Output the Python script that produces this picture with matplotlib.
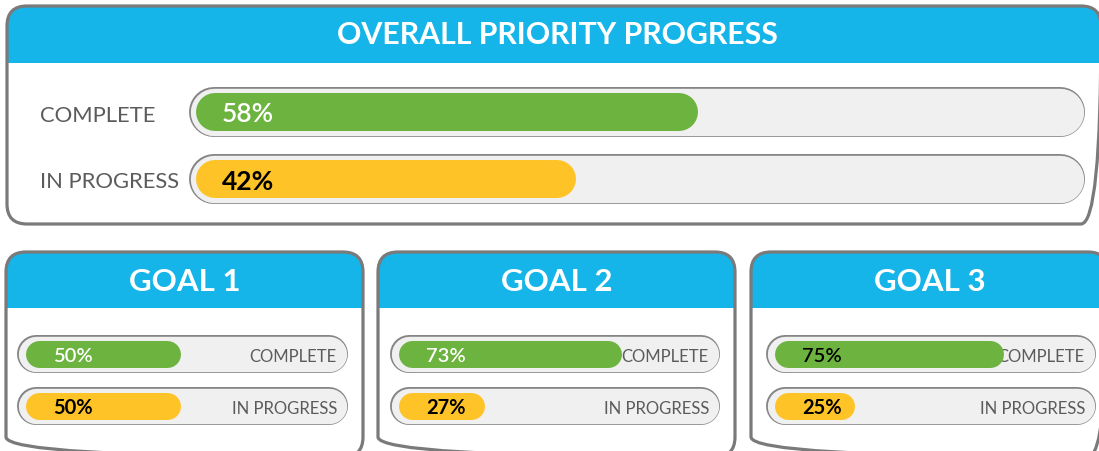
import matplotlib
matplotlib.use("Agg")
import matplotlib.pyplot as plt
from matplotlib.patches import FancyBboxPatch, Rectangle

# ---------------- data ----------------
title = "OVERALL PRIORITY PROGRESS"
overall_categories = ["COMPLETE", "IN PROGRESS"]
overall_values = [58, 42]
goal_names = ["GOAL 1", "GOAL 2", "GOAL 3"]
goal_categories = ["COMPLETE", "IN PROGRESS"]
goal_complete = [50, 73, 75]
goal_in_progress = [50, 27, 25]

# ---------------- style ----------------
W, H, DPI = 1099, 451, 100
BLUE = "#15b5e9"
GREEN = "#6db33f"
YELLOW = "#fec326"
TRACK = "#f0f0f0"
TRACK_EDGE = "#858585"
BORDER = "#7a7a7a"
LABEL = "#5b5b5b"
FONT = ["Lato", "DejaVu Sans"]
plt.rcParams["font.family"] = FONT

fig = plt.figure(figsize=(W / DPI, H / DPI), dpi=DPI)
base = fig.add_axes([0, 0, 1, 1])
base.set_xlim(0, W)
base.set_ylim(H, 0)
base.axis("off")

PT = 72.0 / DPI  # points per pixel


def panel(x0, y0, x1, y1, hdr_bottom, header, hx, hy, hsize, r=20):
    bg = FancyBboxPatch((x0, y0), x1 - x0, y1 - y0,
                        boxstyle=f"round,pad=0,rounding_size={r}",
                        fc="white", ec="none", zorder=1)
    base.add_patch(bg)
    hdr = Rectangle((x0, y0), x1 - x0, hdr_bottom - y0, fc=BLUE, ec="none", zorder=2)
    base.add_patch(hdr)
    hdr.set_clip_path(bg)
    edge = FancyBboxPatch((x0, y0), x1 - x0, y1 - y0,
                          boxstyle=f"round,pad=0,rounding_size={r}",
                          fc="none", ec=BORDER, lw=2.3, zorder=6)
    base.add_patch(edge)
    base.text(hx, hy, header, color="white", fontsize=hsize, fontweight="bold",
              ha="center", va="center", zorder=7)


def track(x0, x1, yc, h):
    r = h / 2.0
    base.plot([x0 + r, x1 - r], [yc, yc], color=TRACK_EDGE, lw=h * PT,
              solid_capstyle="round", zorder=3)
    base.plot([x0 + r, x1 - r], [yc, yc], color=TRACK, lw=(h - 2.6) * PT,
              solid_capstyle="round", zorder=3.1)


def bar(tx0, tx1, yc, th, value, color, left_px, base_px, scale, bh,
        label, lcolor, lweight, lsize, lx, ly):
    """Bar drawn in its own axes whose x axis is in percent."""
    ax = fig.add_axes([tx0 / W, 1 - (yc + th / 2) / H, (tx1 - tx0) / W, th / H])
    ax.axis("off")
    ax.patch.set_visible(False)
    r = bh / 2.0
    zero_px = left_px + base_px - r          # pixel of 0 %
    ax.set_xlim((tx0 - zero_px) / scale, (tx1 - zero_px) / scale)
    ax.set_ylim(-th / 2, th / 2)
    start = (left_px + r - zero_px) / scale
    ax.plot([start, value], [0, 0], color=color, lw=bh * PT,
            solid_capstyle="round", zorder=2)
    ax.text(lx, ly, label, color=lcolor, fontsize=lsize, fontweight=lweight,
            ha="left", va="center", zorder=5, transform=base.transData)
    return ax


# ---------------- overall panel ----------------
panel(7, 6, 1101, 224, 63, title, 557, 35, 21.8)
main_tracks_y = [112, 179]
main_label_dy = [4.5, 2.5]
main_colors = [GREEN, YELLOW]
main_txt_colors = ["white", "black"]
main_txt_weights = ["semibold", "bold"]
for i, (cat, val) in enumerate(zip(overall_categories, overall_values)):
    yc = main_tracks_y[i]
    track(189, 1085, yc, 50)
    bar(189, 1085, yc, 50, val, main_colors[i], 196, 61, 7.6, 38,
        f"{val}%", main_txt_colors[i], main_txt_weights[i], 19, 222, yc + 2.5)
    base.text(40, yc + main_label_dy[i], cat, color=LABEL, fontsize=15.8,
              ha="left", va="center", zorder=7)

# ---------------- goal panels ----------------
goal_panels_x = [(6, 363), (378, 735), (751, 1108)]
goal_tracks_x = [(17, 348), (390, 720), (766, 1096)]
goal_tracks_y = [354, 406]
complete_txt_colors = ["white", "white", "black"]
for g, name in enumerate(goal_names):
    px0, px1 = goal_panels_x[g]
    panel(px0, 252, px1, 457, 308, name, (px0 + px1) / 2 + 0.5, 282, 22.5)
    tx0, tx1 = goal_tracks_x[g]
    vals = [goal_complete[g], goal_in_progress[g]]
    colors = [GREEN, YELLOW]
    tcolors = [complete_txt_colors[g], "black"]
    weights = ["semibold", "bold"]
    for k, cat in enumerate(goal_categories):
        yc = goal_tracks_y[k]
        track(tx0, tx1, yc, 38)
        bar(tx0, tx1, yc, 38, vals[k], colors[k], tx0 + 8, 6, 2.98, 27,
            f"{vals[k]}%", tcolors[k], weights[k], 14.5, tx0 + 36, yc + 2)
        base.text(tx1 - 11, yc + 3, cat, color=LABEL, fontsize=12, ha="right",
                  va="center", zorder=9)

fig.savefig("out.png", dpi=DPI)
